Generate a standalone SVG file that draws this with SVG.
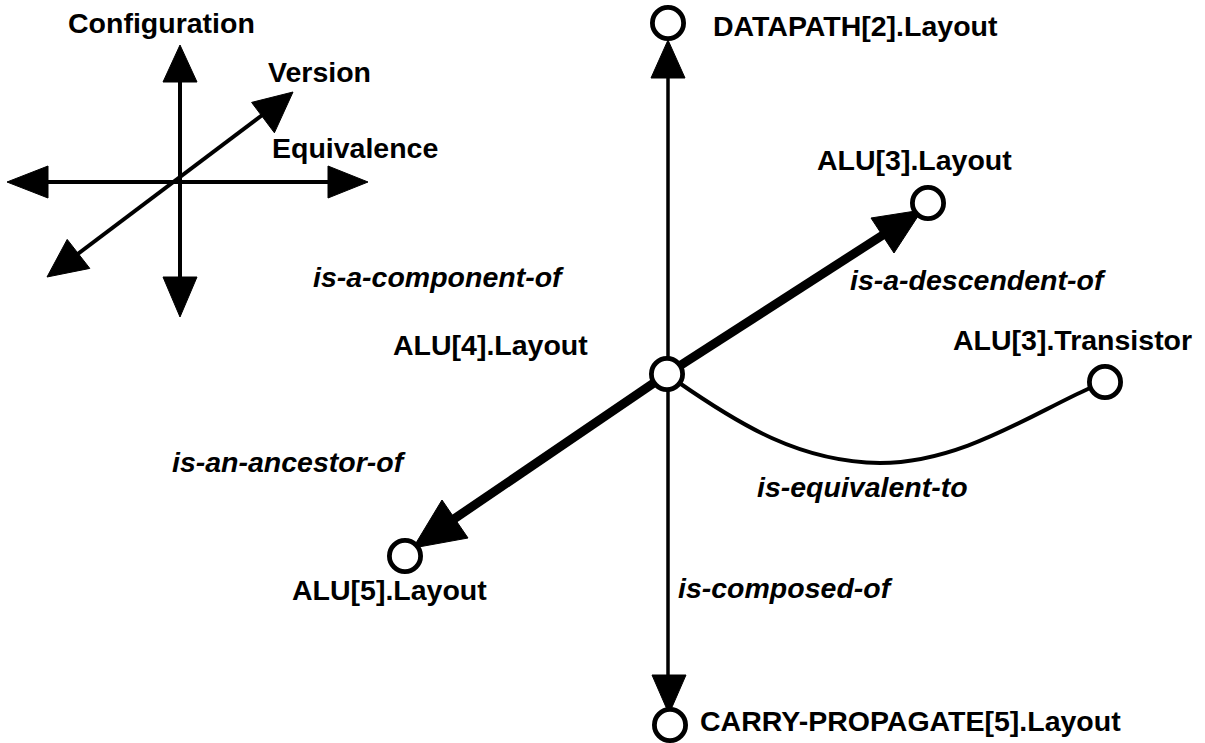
<svg xmlns="http://www.w3.org/2000/svg" width="1205" height="743" viewBox="0 0 1205 743">
<style>
  text { font-family: "Liberation Sans", Arial, sans-serif; font-size: 28.5px; font-weight: bold; fill: #000; }
  .rel { font-style: italic; }
  .thin { stroke: #000; stroke-width: 3.5; fill: none; }
  .axis { stroke: #000; stroke-width: 4; fill: none; }
  .thick { stroke: #000; stroke-width: 9; fill: none; }
  .curve { stroke: #000; stroke-width: 4; fill: none; stroke-linecap: round; }
  .head { fill: #000; stroke: #000; stroke-width: 1; stroke-linejoin: round; }
  .node { fill: #fff; stroke: #000; stroke-width: 4.8; }
</style>
<rect width="1205" height="743" fill="#fff"/>

<g id="legend">
  <line class="axis" x1="180" y1="80" x2="180" y2="280"/>
  <polygon class="head" points="180,45 163,82 197,82"/>
  <polygon class="head" points="180,317 163,277 197,277"/>
  <line class="axis" x1="45" y1="182" x2="332" y2="182"/>
  <polygon class="head" points="7,182 48,166 48,198"/>
  <polygon class="head" points="368,182 328,166 328,198"/>
  <line class="axis" x1="75" y1="256" x2="265" y2="113"/>
  <polygon class="head" points="293,92 251.6,102.4 274.4,132.8"/>
  <polygon class="head" points="47,277 67.2,239.4 89.8,268.4"/>
  <text x="68" y="33">Configuration</text>
  <text x="268" y="82">Version</text>
  <text x="272" y="158">Equivalence</text>
</g>

<g id="connectors">
  <line class="thin" x1="668" y1="76" x2="668" y2="677"/>
  <polygon class="head" points="668,40 651,78 685,78"/>
  <polygon class="head" points="669,714 652,675 686,675"/>
  <line class="thick" x1="667" y1="374" x2="886" y2="233"/>
  <polygon class="head" points="922,210 871,218 894,253"/>
  <line class="thick" x1="667" y1="374" x2="451" y2="521"/>
  <polygon class="head" points="413,548 442,500 468,538"/>
  <path class="curve" d="M 678 382 C 740 425, 800 462, 880 463 C 960 463, 1030 415, 1090 388"/>
  <text class="rel" x="313" y="287">is-a-component-of</text>
  <text class="rel" x="850" y="290">is-a-descendent-of</text>
  <text class="rel" x="172" y="472">is-an-ancestor-of</text>
  <text class="rel" x="757" y="497">is-equivalent-to</text>
  <text class="rel" x="678" y="598">is-composed-of</text>
</g>

<g id="node-datapath">
  <circle class="node" cx="668" cy="23" r="15.6"/>
  <text x="713" y="36">DATAPATH[2].Layout</text>
</g>
<g id="node-alu3-layout">
  <circle class="node" cx="928" cy="203" r="15.6"/>
  <text x="817" y="170">ALU[3].Layout</text>
</g>
<g id="node-alu4-layout">
  <circle class="node" cx="667" cy="374" r="15.6"/>
  <text x="393" y="355">ALU[4].Layout</text>
</g>
<g id="node-alu3-transistor">
  <circle class="node" cx="1105" cy="382" r="15.6"/>
  <text x="953" y="350">ALU[3].Transistor</text>
</g>
<g id="node-alu5-layout">
  <circle class="node" cx="405" cy="556" r="15.6"/>
  <text x="292" y="600">ALU[5].Layout</text>
</g>
<g id="node-carry">
  <circle class="node" cx="670" cy="725" r="15.6"/>
  <text x="700" y="731">CARRY-PROPAGATE[5].Layout</text>
</g>
</svg>
